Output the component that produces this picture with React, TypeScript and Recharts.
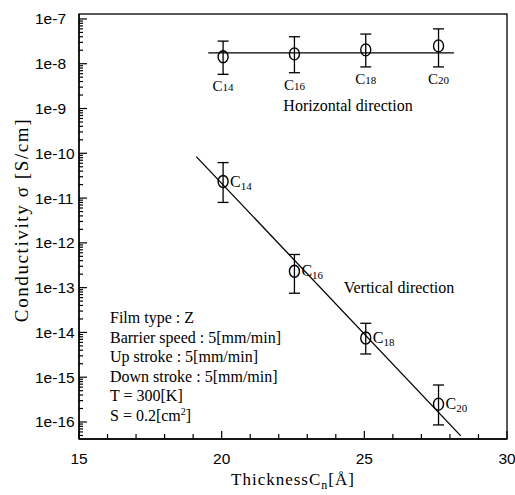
import { ComposedChart, Scatter, XAxis, YAxis, ErrorBar } from 'recharts';

// carbon chain length labels (C14 ... C20)
const carbonNumbers = ['14', '16', '18', '20'];
const thickness = [20.05, 22.55, 25.05, 27.6];

// horizontal direction
const horizontalSigma = [1.43e-8, 1.66e-8, 2.04e-8, 2.5e-8];
const horizontalLow = [5.8e-9, 6.3e-9, 8.5e-9, 8.5e-9];
const horizontalHigh = [3.2e-8, 4.0e-8, 4.6e-8, 6.0e-8];

// vertical direction
const verticalSigma = [2.34e-11, 2.32e-13, 7.5e-15, 2.5e-16];
const verticalLow = [8.0e-12, 7.5e-14, 3.3e-15, 8.6e-17];
const verticalHigh = [6.2e-11, 5.5e-13, 1.6e-14, 6.7e-16];

// fitted lines
const horizontalFitX = [19.53, 28.14];
const horizontalFitY = [1.75e-8, 1.75e-8];
const verticalFitX = [19.11, 28.38];
const verticalFitY = [8.45e-11, 4.9e-17];

const xTicks = [15, 16, 17, 18, 19, 20, 21, 22, 23, 24, 25, 26, 27, 28, 29, 30];
const xMajorTicks = [15, 20, 25, 30];
const xTickLabels = ['15', '20', '25', '30'];
const yMajorTicks = [1e-16, 1e-15, 1e-14, 1e-13, 1e-12, 1e-11, 1e-10, 1e-9, 1e-8, 1e-7];
const yTickLabels = ['1e-16', '1e-15', '1e-14', '1e-13', '1e-12', '1e-11', '1e-10', '1e-9', '1e-8', '1e-7'];
const yMinorSteps = [2, 3, 4, 5, 6, 7, 8, 9];

const infoLines = [
  'Film type : Z',
  'Barrier speed : 5[mm/min]',
  'Up stroke : 5[mm/min]',
  'Down stroke : 5[mm/min]',
  'T = 300[K]',
];

const Y_MIN = 4.17e-17;
const Y_MAX = 1.29e-7;
const yDecadeStarts = [1e-17, ...yMajorTicks];
const yAllTicks = [
  ...yMajorTicks,
  ...yDecadeStarts.flatMap((d) => yMinorSteps.map((m) => m * d)),
].filter((v) => v >= Y_MIN && v <= Y_MAX);

const horizontalData = thickness.map((x, i) => ({
  x,
  y: horizontalSigma[i],
  err: [horizontalSigma[i] - horizontalLow[i], horizontalHigh[i] - horizontalSigma[i]],
  label: carbonNumbers[i],
}));
const horizontalLabelData = thickness.map((x, i) => ({ x, y: horizontalLow[i], label: carbonNumbers[i] }));
const verticalData = thickness.map((x, i) => ({
  x,
  y: verticalSigma[i],
  err: [verticalSigma[i] - verticalLow[i], verticalHigh[i] - verticalSigma[i]],
  label: carbonNumbers[i],
}));
const horizontalFit = horizontalFitX.map((x, i) => ({ x, y: horizontalFitY[i] }));
const verticalFit = verticalFitX.map((x, i) => ({ x, y: verticalFitY[i] }));

const SERIF = '"Liberation Serif", "Times New Roman", serif';
const SANS = '"Liberation Sans", Arial, sans-serif';

const W = 515;
const H = 495;
const LEFT = 79;
const TOP = 14;
const RIGHT = 507;
const BOTTOM = 439;

function YTick(props: any) {
  const { x, y, payload } = props;
  const v = payload.value;
  const idx = yMajorTicks.findIndex((t) => Math.abs(Math.log10(t) - Math.log10(v)) < 1e-6);
  const major = idx >= 0;
  return (
    <g>
      <line x1={x} x2={x + (major ? 8 : 4)} y1={y} y2={y} stroke="#000" strokeWidth={1.2} />
      {major && (
        <text x={35} y={y} dy={5.5} textAnchor="start" fontFamily={SANS} fontSize={15.5} fill="#000">
          {yTickLabels[idx]}
        </text>
      )}
    </g>
  );
}

function XTick(props: any) {
  const { x, y, payload } = props;
  const idx = xMajorTicks.indexOf(payload.value);
  const major = idx >= 0;
  return (
    <g>
      <line x1={x} x2={x} y1={y} y2={y - (major ? 8 : 5)} stroke="#000" strokeWidth={1.2} />
      {major && (
        <text x={x} y={y} dy={25} textAnchor="middle" fontFamily={SANS} fontSize={15.5} fill="#000">
          {xTickLabels[idx]}
        </text>
      )}
    </g>
  );
}

function OpenCircle(props: any) {
  const { cx, cy } = props;
  return <ellipse cx={cx} cy={cy} rx={5} ry={6} fill="none" stroke="#000" strokeWidth={1.4} />;
}

function VerticalPoint(props: any) {
  const { cx, cy, payload } = props;
  return (
    <g>
      <ellipse cx={cx} cy={cy} rx={5} ry={6} fill="none" stroke="#000" strokeWidth={1.4} />
      <text x={cx + 7} y={cy + 5} fontFamily={SERIF} fontSize={16} fill="#000">
        C<tspan fontSize={11} dy={3}>{payload.label}</tspan>
      </text>
    </g>
  );
}

function HorizontalLabel(props: any) {
  const { cx, cy, payload } = props;
  return (
    <text x={cx} y={cy + 17} textAnchor="middle" fontFamily={SERIF} fontSize={15} fill="#000">
      C<tspan fontSize={11}>{payload.label}</tspan>
    </text>
  );
}

const Nothing = () => <g />;

export default function App() {
  return (
    <div style={{ width: W, height: H, background: '#fff' }}>
      <style>{'body{margin:0}'}</style>
      <ComposedChart
        width={W}
        height={H}
        margin={{ top: TOP, right: W - RIGHT, bottom: 0, left: 0 }}
      >
        <XAxis
          type="number"
          dataKey="x"
          domain={[15, 30]}
          ticks={xTicks}
          interval={0}
          allowDataOverflow
          height={H - BOTTOM}
          tickSize={0}
          tickMargin={0}
          tickLine={false}
          tick={<XTick />}
          axisLine={{ stroke: '#000', strokeWidth: 1.3 }}
        />
        <YAxis
          type="number"
          dataKey="y"
          scale="log"
          domain={[Y_MIN, Y_MAX]}
          ticks={yAllTicks}
          interval={0}
          allowDataOverflow
          width={LEFT}
          tickSize={0}
          tickMargin={0}
          tickLine={false}
          tick={<YTick />}
          axisLine={{ stroke: '#000', strokeWidth: 1.3 }}
        />
        <Scatter
          data={horizontalFit}
          line={{ stroke: '#000', strokeWidth: 1.3 }}
          shape={Nothing}
          isAnimationActive={false}
        />
        <Scatter
          data={verticalFit}
          line={{ stroke: '#000', strokeWidth: 1.3 }}
          shape={Nothing}
          isAnimationActive={false}
        />
        <Scatter data={horizontalData} shape={<OpenCircle />} isAnimationActive={false}>
          <ErrorBar dataKey="err" direction="y" width={5.5} stroke="#000" strokeWidth={1.3} isAnimationActive={false} />
        </Scatter>
        <Scatter data={horizontalLabelData} shape={<HorizontalLabel />} isAnimationActive={false} />
        <Scatter data={verticalData} shape={<VerticalPoint />} isAnimationActive={false}>
          <ErrorBar dataKey="err" direction="y" width={5.5} stroke="#000" strokeWidth={1.3} isAnimationActive={false} />
        </Scatter>
        <rect x={LEFT} y={TOP} width={RIGHT - LEFT} height={BOTTOM - TOP} fill="none" stroke="#000" strokeWidth={1.3} />
        <text x={348} y={111} textAnchor="middle" fontFamily={SERIF} fontSize={16} fill="#000">
          Horizontal direction
        </text>
        <text x={399} y={293} textAnchor="middle" fontFamily={SERIF} fontSize={16} fill="#000">
          Vertical direction
        </text>
        {infoLines.map((t, i) => (
          <text key={t} x={110} y={323 + i * 19.5} fontFamily={SERIF} fontSize={16} fill="#000">
            {t}
          </text>
        ))}
        <text x={110} y={323 + infoLines.length * 19.5} fontFamily={SERIF} fontSize={16} fill="#000">
          S = 0.2[cm<tspan fontSize={10} dy={-6}>2</tspan>
          <tspan dy={6}>]</tspan>
        </text>
        <text
          x={21}
          y={220}
          transform="rotate(-90 21 220)"
          textAnchor="middle"
          dominantBaseline="central"
          fontFamily={SERIF}
          fontSize={19}
          letterSpacing={1.6}
          fill="#000"
        >
          Conductivity σ [S/cm]
        </text>
        <text x={293} y={485} textAnchor="middle" fontFamily={SERIF} fontSize={17} letterSpacing={1} fill="#000">
          ThicknessC<tspan fontSize={12} dy={4}>n</tspan>
          <tspan dy={-4}>[Å]</tspan>
        </text>
      </ComposedChart>
    </div>
  );
}
